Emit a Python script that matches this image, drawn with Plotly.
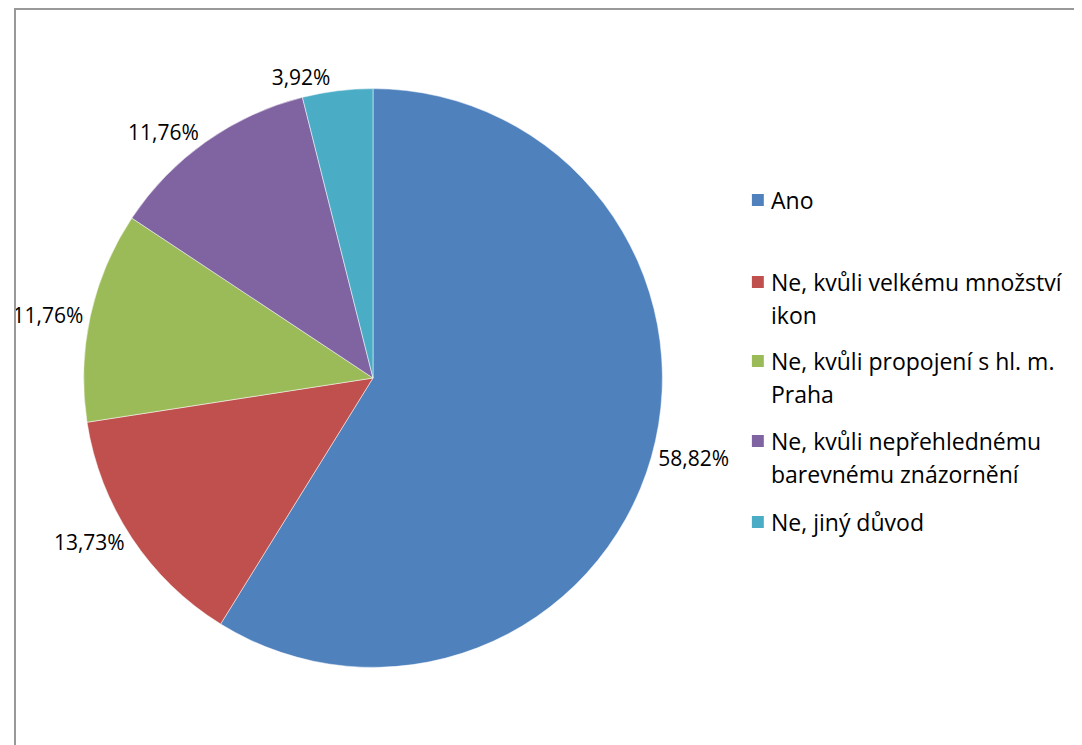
import plotly.graph_objects as go

labels = ["Ano", "Ne, kvůli velkému množství ikon", "Ne, kvůli propojení s hl. m. Praha",
          "Ne, kvůli nepřehlednému barevnému znázornění", "Ne, jiný důvod"]
legend_lines = [["Ano"], ["Ne, kvůli velkému množství", "ikon"], ["Ne, kvůli propojení s hl. m.", "Praha"],
                ["Ne, kvůli nepřehlednému", "barevnému znázornění"], ["Ne, jiný důvod"]]
values = [58.82, 13.73, 11.76, 11.76, 3.92]
colors = ["#4F81BD", "#C0504D", "#9BBB59", "#8064A2", "#4BACC6"]

W, H = 1082, 745
FONT = "Open Sans"
CX, CY, R = 361, 370, 291

fig = go.Figure()
fig.add_trace(go.Pie(
    labels=labels, values=values, sort=False, direction="clockwise", rotation=0,
    marker=dict(colors=colors, line=dict(color="white", width=0.5)),
    textposition="outside", texttemplate="%{value:.2f}%",
    textfont=dict(family=FONT, size=21, color="black"),
    domain=dict(x=[(CX - R) / W, (CX + R) / W], y=[1 - (CY + R) / H, 1 - (CY - R) / H]),
    showlegend=False, hoverinfo="label+value",
))

# custom legend
item_y = [192, 274, 353, 433, 514]
line_gap = 33
for i, lines in enumerate(legend_lines):
    y0 = item_y[i]
    fig.add_shape(type="rect", xref="paper", yref="paper",
                  x0=742 / W, x1=754 / W, y0=1 - (y0 + 6) / H, y1=1 - (y0 - 6) / H,
                  fillcolor=colors[i], line=dict(width=0))
    for j, t in enumerate(lines):
        fig.add_annotation(text=t, xref="paper", yref="paper", x=759 / W, y=1 - (y0 + j * line_gap) / H,
                           xanchor="left", yanchor="middle", showarrow=False,
                           font=dict(family=FONT, size=23, color="black"))

# chart area border
fig.add_shape(type="rect", xref="paper", yref="paper", x0=1 / W, x1=1.02, y0=-0.02, y1=1 - 1 / H,
              line=dict(color="#999999", width=2), fillcolor="rgba(0,0,0,0)")

fig.update_layout(width=W, height=H, margin=dict(l=0, r=0, t=0, b=0),
                  paper_bgcolor="white", plot_bgcolor="white", separators=", ",
                  font=dict(family=FONT))
fig.write_html("out.html")
